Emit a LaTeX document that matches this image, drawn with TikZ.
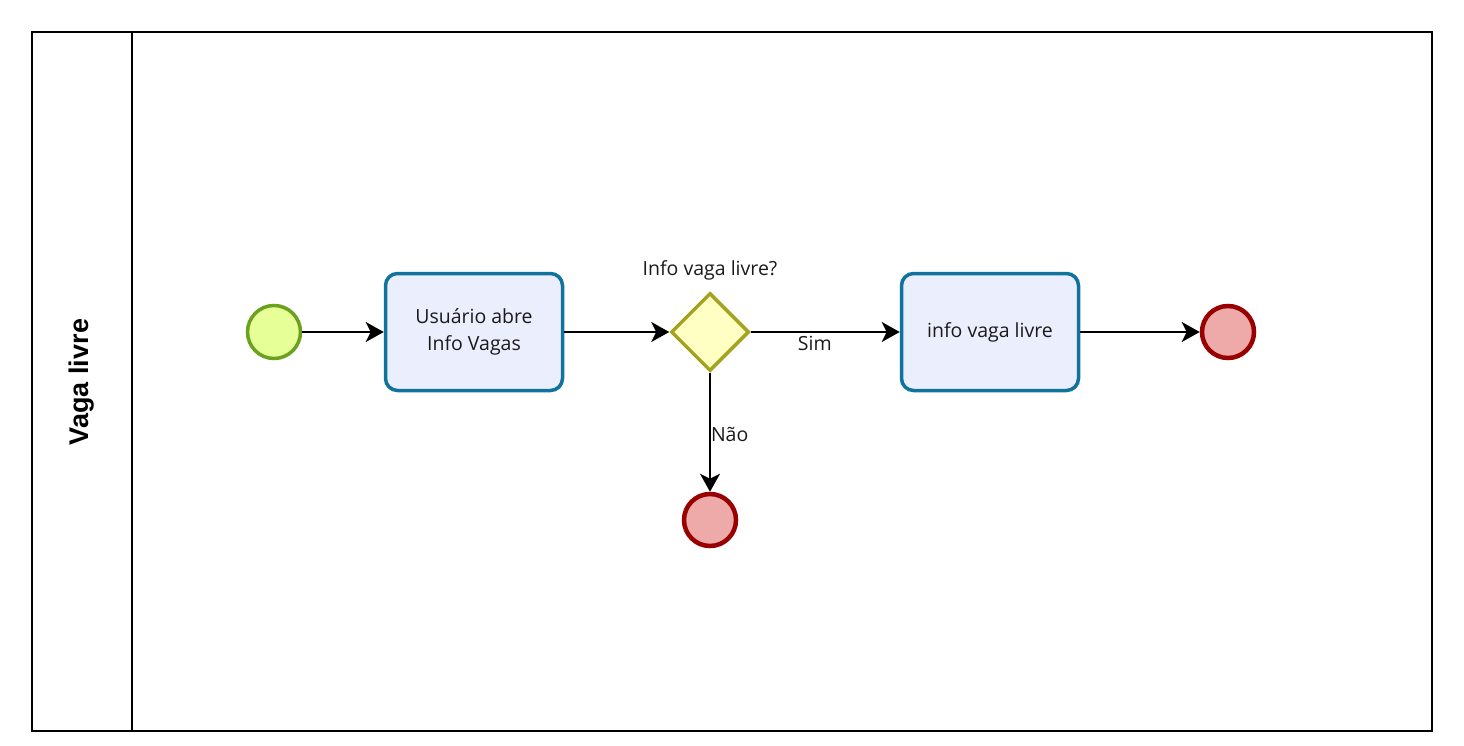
\documentclass[tikz,border=0pt]{standalone}
\usepackage{fontspec}
\setmainfont{Open Sans}
\newfontfamily\lanefont{Liberation Sans}
\usetikzlibrary{shapes.geometric,arrows.meta}
\definecolor{startfill}{HTML}{E6FF97}
\definecolor{startdraw}{HTML}{6AA11F}
\definecolor{taskfill}{HTML}{EBEEFD}
\definecolor{taskdraw}{HTML}{10739E}
\definecolor{gwfill}{HTML}{FFFFC3}
\definecolor{gwdraw}{HTML}{A3A31F}
\definecolor{endfill}{HTML}{EEA9A9}
\definecolor{enddraw}{HTML}{990000}
\definecolor{txt}{HTML}{1A1A1A}
\tikzset{
  startev/.style={circle, draw=startdraw, fill=startfill, line width=3.5pt, minimum size=53pt, inner sep=0pt},
  endev/.style={circle, draw=enddraw, fill=endfill, line width=4.5pt, minimum size=52pt, inner sep=0pt},
  taskbox/.style={rectangle, rounded corners=12pt, draw=taskdraw, fill=taskfill, line width=3.5pt, minimum width=177pt, minimum height=117pt, align=center, font=\fontsize{19.5}{27}\selectfont, text=txt},
  gw/.style={diamond, draw=gwdraw, fill=gwfill, line width=3.5pt, minimum width=78pt, minimum height=78pt, inner sep=0pt},
  flow/.style={line width=2pt, -{Stealth[length=18pt,width=20pt,inset=5pt]}},
  lbl/.style={font=\fontsize{19.5}{22}\selectfont, text=txt, inner sep=0pt},
}
\begin{document}
\begin{tikzpicture}[x=1pt,y=-1pt]
\useasboundingbox (0,0) rectangle (1464,746);
\draw[line width=2pt] (32,32) rectangle (1432,731);
\draw[line width=2pt] (132,32) -- (132,731);
\node[rotate=90, font=\lanefont\bfseries\fontsize{27}{30}\selectfont] (lane) at (82,382) {Vaga livre};

\node[startev] (start) at (274,332) {};
\node[taskbox] (t1) at (474,332) {Usuário abre\\Info Vagas};
\node[gw] (gw) at (710,332) {};
\node[lbl] (gwl) at (710,270) {Info vaga livre?};
\node[taskbox] (t2) at (990,332) {info vaga livre};
\node[endev] (e1) at (1228,332) {};
\node[endev] (e2) at (710,520) {};

\draw[flow] (start) -- (t1);
\draw[flow] (t1) -- (gw);
\draw[flow] (gw) -- node[lbl, below, pos=0.43, yshift=-3pt] (sim) {Sim} (t2);
\draw[flow] (t2) -- (e1);
\draw[flow] (gw) -- node[lbl, right, pos=0.52] (nao) {Não} (e2);
\end{tikzpicture}
\end{document}
